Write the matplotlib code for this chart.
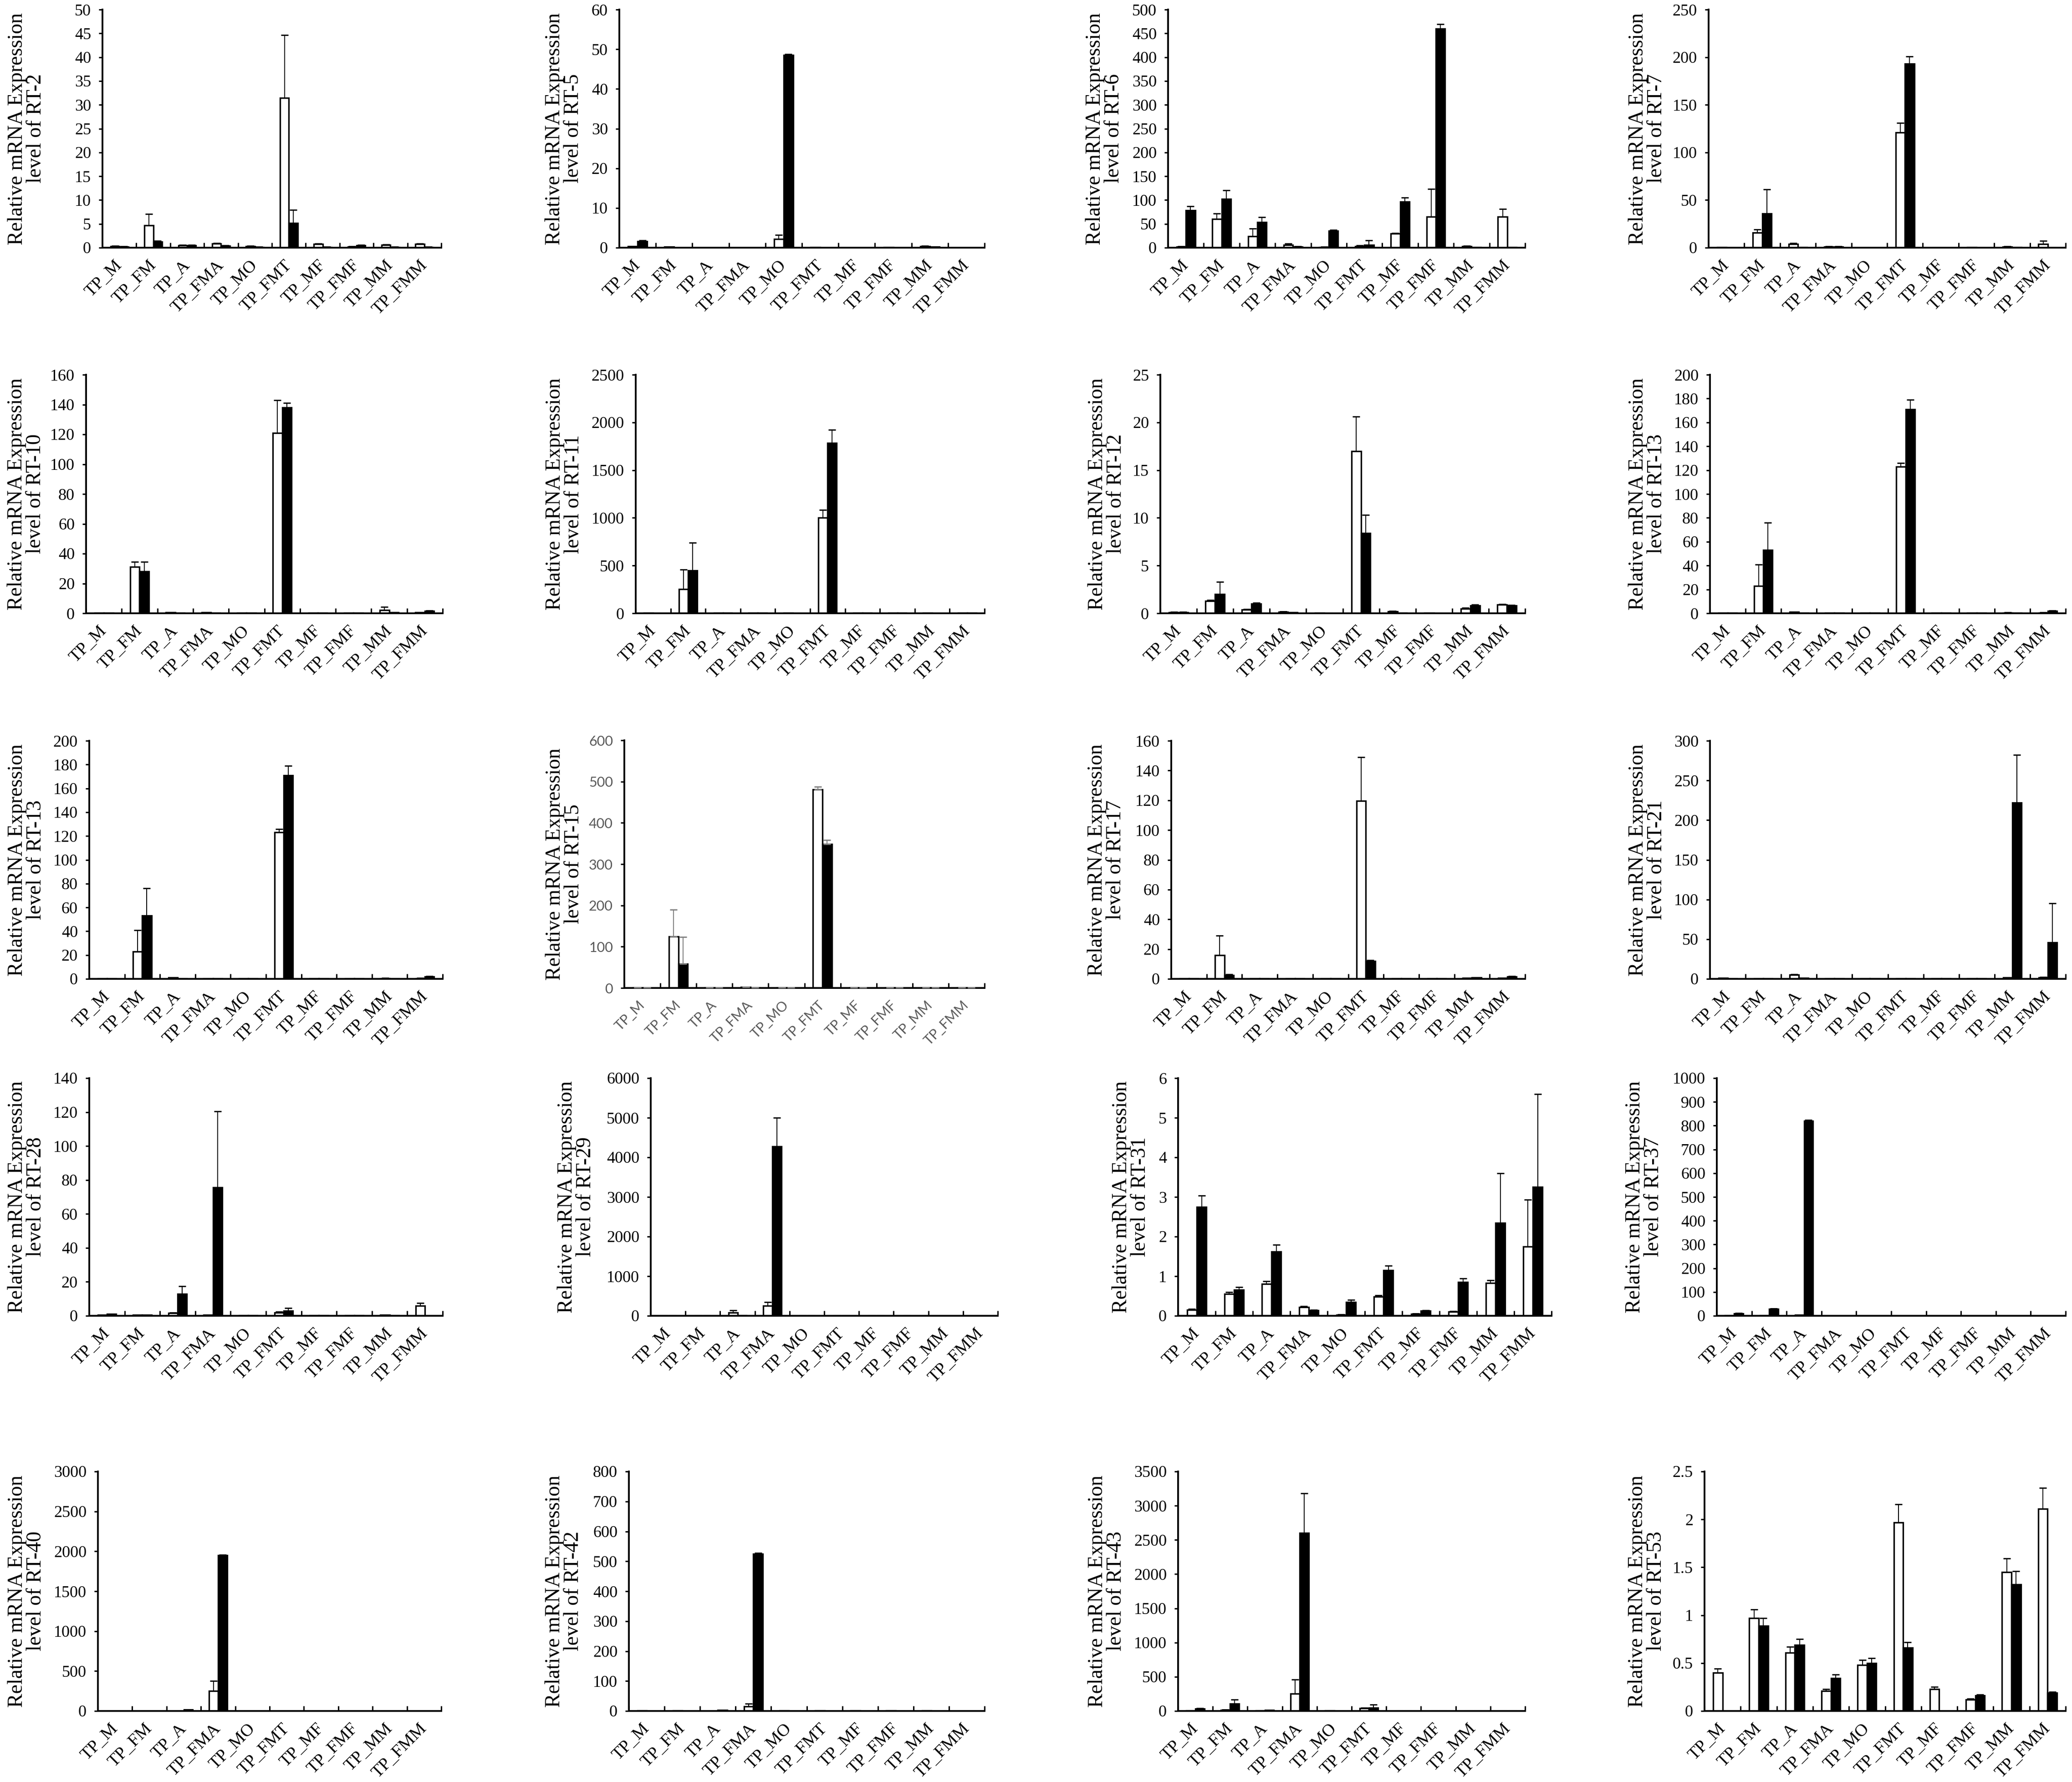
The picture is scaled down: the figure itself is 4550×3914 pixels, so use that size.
import matplotlib
matplotlib.use("Agg")
import matplotlib.pyplot as plt
import numpy as np
from matplotlib.ticker import FormatStrFormatter, MultipleLocator

categories = ["TP_M", "TP_FM", "TP_A", "TP_FMA", "TP_MO",
              "TP_FMT", "TP_MF", "TP_FMF", "TP_MM", "TP_FMM"]

# white = first series, black = second series, *_err = upper error bar
rt2_white = [0.3, 4.7, 0.5, 0.9, 0.3, 31.5, 0.8, 0.2, 0.6, 0.8]
rt2_white_err = [0.1, 2.4, 0.1, 0.1, 0.05, 13.1, 0.1, 0.05, 0.1, 0.1]
rt2_black = [0.2, 1.2, 0.5, 0.4, 0.1, 5.2, 0.1, 0.5, 0.1, 0.1]
rt2_black_err = [0.05, 0.2, 0.1, 0.1, 0.05, 2.7, 0.05, 0.05, 0.05, 0.05]

rt5_white = [0.3, 0.2, 0.05, 0.05, 2.2, 0.1, 0.05, 0.1, 0.4, 0.05]
rt5_white_err = [0.05, 0.05, 0, 0, 1.0, 0.05, 0, 0.05, 0.1, 0]
rt5_black = [1.6, 0.05, 0.02, 0.02, 48.5, 0.02, 0.02, 0.02, 0.2, 0.02]
rt5_black_err = [0.2, 0, 0, 0, 0.3, 0, 0, 0, 0.05, 0]

rt6_white = [2, 60, 24, 6, 1, 3, 30, 65, 3, 65]
rt6_white_err = [0.5, 12, 16, 3, 0.5, 1.5, 1, 58, 0.5, 16]
rt6_black = [78, 102, 54, 2, 35, 6, 97, 460, 1, 0.5]
rt6_black_err = [9, 18, 10, 0.5, 2, 9, 8, 9, 0.3, 0.1]

rt7_white = [0.3, 16, 4, 1, 0.2, 121, 0.2, 0.5, 1, 4]
rt7_white_err = [0.1, 3, 1, 0.2, 0.05, 10, 0.05, 0.1, 0.2, 3]
rt7_black = [0.2, 36, 0.3, 1, 0.1, 193, 0.1, 0.2, 0.5, 0.2]
rt7_black_err = [0.05, 25, 0.1, 0.2, 0.05, 8, 0.05, 0.05, 0.1, 0.05]

rt10_white = [0.3, 31, 0.5, 0.5, 0.3, 121, 0.3, 0.3, 2, 0.5]
rt10_white_err = [0.05, 3.5, 0.1, 0.1, 0.05, 22, 0.05, 0.05, 2.2, 0.1]
rt10_black = [0.3, 28, 0.3, 0.3, 0.2, 138, 0.2, 0.2, 0.5, 1.5]
rt10_black_err = [0.05, 6.5, 0.05, 0.05, 0.05, 3, 0.05, 0.05, 0.1, 0.2]

rt11_white = [3, 255, 4, 5, 3, 1000, 4, 3, 3, 3]
rt11_white_err = [1, 205, 1, 1, 1, 85, 1, 1, 1, 1]
rt11_black = [2, 450, 3, 4, 2, 1785, 5, 3, 2, 4]
rt11_black_err = [1, 290, 1, 1, 1, 140, 1, 1, 1, 1]

rt12_white = [0.1, 1.3, 0.4, 0.15, 0.05, 17, 0.2, 0.05, 0.5, 0.9]
rt12_white_err = [0.02, 0.1, 0.05, 0.02, 0.01, 3.6, 0.02, 0.01, 0.05, 0.05]
rt12_black = [0.1, 2.0, 1.0, 0.08, 0.02, 8.4, 0.05, 0.02, 0.8, 0.8]
rt12_black_err = [0.02, 1.3, 0.1, 0.02, 0.01, 1.9, 0.01, 0.01, 0.1, 0.05]

rt13_white = [0.3, 23, 1, 0.3, 0.2, 123, 0.3, 0.2, 0.5, 0.5]
rt13_white_err = [0.05, 18, 0.2, 0.05, 0.05, 3, 0.05, 0.05, 0.1, 0.1]
rt13_black = [0.2, 53, 0.3, 0.3, 0.2, 171, 0.2, 0.2, 0.3, 2]
rt13_black_err = [0.05, 23, 0.05, 0.05, 0.05, 8, 0.05, 0.05, 0.05, 0.4]

rt15_white = [1, 125, 1, 2, 1, 481, 1, 1, 1, 1]
rt15_white_err = [0.2, 65, 0.2, 0.3, 0.2, 6, 0.2, 0.2, 0.2, 0.2]
rt15_black = [0.5, 58, 0.5, 1, 0.5, 349, 0.5, 0.5, 0.5, 0.5]
rt15_black_err = [0.1, 65, 0.1, 0.2, 0.1, 10, 0.1, 0.1, 0.1, 0.1]

rt17_white = [0.3, 16, 0.3, 0.3, 0.2, 119.5, 0.3, 0.2, 0.5, 0.5]
rt17_white_err = [0.05, 13, 0.05, 0.05, 0.05, 29.5, 0.05, 0.05, 0.1, 0.1]
rt17_black = [0.3, 2.5, 0.2, 0.3, 0.2, 12, 0.2, 0.2, 0.8, 1.5]
rt17_black_err = [0.05, 0.5, 0.05, 0.05, 0.05, 0.5, 0.05, 0.05, 0.1, 0.2]

rt21_white = [1, 0.5, 5, 0.3, 0.3, 0.3, 0.3, 0.3, 1.5, 2]
rt21_white_err = [0.2, 0.1, 1, 0.05, 0.05, 0.05, 0.05, 0.05, 0.3, 0.5]
rt21_black = [0.5, 0.5, 1, 0.3, 0.3, 0.3, 0.3, 0.3, 222, 46]
rt21_black_err = [0.1, 0.1, 0.2, 0.05, 0.05, 0.05, 0.05, 0.05, 60, 49]

rt28_white = [0.5, 0.5, 1.5, 0.5, 0.3, 2, 0.3, 0.3, 0.5, 6]
rt28_white_err = [0.1, 0.1, 0.3, 0.1, 0.05, 0.3, 0.05, 0.05, 0.1, 1.5]
rt28_black = [1, 0.5, 13, 75.5, 0.2, 3, 0.2, 0.2, 0.2, 0.1]
rt28_black_err = [0.2, 0.1, 4.5, 45, 0.05, 1.5, 0.05, 0.05, 0.05, 0.02]

rt29_white = [5, 5, 80, 250, 5, 5, 5, 5, 3, 3]
rt29_white_err = [1, 1, 60, 100, 1, 1, 1, 1, 1, 1]
rt29_black = [5, 5, 10, 4280, 5, 5, 5, 3, 3, 3]
rt29_black_err = [1, 1, 2, 720, 1, 1, 1, 1, 1, 1]

rt31_white = [0.15, 0.55, 0.8, 0.22, 0.02, 0.48, 0.05, 0.1, 0.83, 1.75]
rt31_white_err = [0.02, 0.05, 0.07, 0.02, 0.01, 0.04, 0.01, 0.01, 0.07, 1.18]
rt31_black = [2.75, 0.65, 1.62, 0.14, 0.35, 1.15, 0.13, 0.85, 2.35, 3.25]
rt31_black_err = [0.28, 0.07, 0.17, 0.01, 0.05, 0.12, 0.01, 0.09, 1.25, 2.35]

rt37_white = [1, 2, 3, 0.5, 0.5, 0.5, 0.5, 0.5, 0.5, 0.5]
rt37_white_err = [0, 0, 0, 0, 0, 0, 0, 0, 0, 0]
rt37_black = [10, 28, 820, 0.5, 0.5, 0.5, 0.5, 0.5, 0.5, 0.5]
rt37_black_err = [1, 2, 3, 0, 0, 0, 0, 0, 0, 0]

rt40_white = [1, 1, 1, 250, 1, 1, 1, 1, 1, 1]
rt40_white_err = [0, 0, 0, 125, 0, 0, 0, 0, 0, 0]
rt40_black = [1, 1, 15, 1950, 1, 1, 1, 1, 1, 1]
rt40_black_err = [0, 0, 2, 5, 0, 0, 0, 0, 0, 0]

rt42_white = [2, 2, 0.5, 15, 2, 2, 2, 2, 2, 0.5]
rt42_white_err = [0, 0, 0, 10, 0, 0, 0, 0, 0, 0]
rt42_black = [0.5, 0.5, 3, 525, 0.5, 0.5, 0.5, 0.5, 0.5, 0.5]
rt42_black_err = [0, 0, 0.5, 3, 0, 0, 0, 0, 0, 0]

rt43_white = [5, 15, 5, 250, 5, 40, 3, 3, 3, 3]
rt43_white_err = [1, 2, 1, 210, 1, 5, 1, 1, 1, 1]
rt43_black = [35, 105, 12, 2600, 2, 45, 3, 3, 3, 3]
rt43_black_err = [3, 60, 2, 580, 1, 50, 1, 1, 1, 1]

rt53_white = [0.4, 0.97, 0.61, 0.21, 0.48, 1.97, 0.23, 0.12, 1.45, 2.11]
rt53_white_err = [0.04, 0.09, 0.06, 0.02, 0.05, 0.19, 0.02, 0.01, 0.14, 0.22]
rt53_black = [0, 0.89, 0.69, 0.34, 0.5, 0.66, 0, 0.16, 1.32, 0.19]
rt53_black_err = [0, 0.08, 0.06, 0.04, 0.05, 0.06, 0, 0.01, 0.14, 0.01]

# (gene, white, white err, black, black err, y max, y step)
panels = [
    ("RT-2", rt2_white, rt2_white_err, rt2_black, rt2_black_err, 50, 5),
    ("RT-5", rt5_white, rt5_white_err, rt5_black, rt5_black_err, 60, 10),
    ("RT-6", rt6_white, rt6_white_err, rt6_black, rt6_black_err, 500, 50),
    ("RT-7", rt7_white, rt7_white_err, rt7_black, rt7_black_err, 250, 50),
    ("RT-10", rt10_white, rt10_white_err, rt10_black, rt10_black_err, 160, 20),
    ("RT-11", rt11_white, rt11_white_err, rt11_black, rt11_black_err, 2500, 500),
    ("RT-12", rt12_white, rt12_white_err, rt12_black, rt12_black_err, 25, 5),
    ("RT-13", rt13_white, rt13_white_err, rt13_black, rt13_black_err, 200, 20),
    ("RT-13", rt13_white, rt13_white_err, rt13_black, rt13_black_err, 200, 20),
    ("RT-15", rt15_white, rt15_white_err, rt15_black, rt15_black_err, 600, 100),
    ("RT-17", rt17_white, rt17_white_err, rt17_black, rt17_black_err, 160, 20),
    ("RT-21", rt21_white, rt21_white_err, rt21_black, rt21_black_err, 300, 50),
    ("RT-28", rt28_white, rt28_white_err, rt28_black, rt28_black_err, 140, 20),
    ("RT-29", rt29_white, rt29_white_err, rt29_black, rt29_black_err, 6000, 1000),
    ("RT-31", rt31_white, rt31_white_err, rt31_black, rt31_black_err, 6, 1),
    ("RT-37", rt37_white, rt37_white_err, rt37_black, rt37_black_err, 1000, 100),
    ("RT-40", rt40_white, rt40_white_err, rt40_black, rt40_black_err, 3000, 500),
    ("RT-42", rt42_white, rt42_white_err, rt42_black, rt42_black_err, 800, 100),
    ("RT-43", rt43_white, rt43_white_err, rt43_black, rt43_black_err, 3500, 500),
    ("RT-53", rt53_white, rt53_white_err, rt53_black, rt53_black_err, 2.5, 0.5),
]

# axes boxes in pixels: left, right, top, bottom, gap from label edge to y axis
layout = [
    (225, 969, 21, 544, 215), (1360, 2162, 21, 544, 170),
    (2565, 3349, 21, 544, 188), (3752, 4536, 21, 544, 183),
    (189, 972, 823, 1347, 180), (1396, 2162, 823, 1347, 205),
    (2548, 3349, 823, 1347, 166), (3755, 4536, 823, 1347, 186),
    (196, 972, 1627, 2150, 186), (1371, 2162, 1626, 2170, 180),
    (2572, 3349, 1627, 2150, 191), (3755, 4536, 1627, 2150, 186),
    (196, 972, 2368, 2890, 186), (1429, 2191, 2368, 2890, 212),
    (2587, 3407, 2368, 2890, 152), (3770, 4536, 2368, 2890, 208),
    (215, 969, 3232, 3758, 205), (1381, 2162, 3232, 3758, 191),
    (2587, 3349, 3232, 3758, 205), (3743, 4536, 3232, 3758, 175),
]

W, H = 4550, 3914
serif = "Liberation Serif"

fig = plt.figure(figsize=(W / 100, H / 100), dpi=100)

x = np.arange(len(categories)) + 0.5
bw = 0.26

for (gene, w, we, b, be, ymax, ystep), (l, r, t, btm, gap) in zip(panels, layout):
    ax = fig.add_axes([l / W, 1 - btm / H, (r - l) / W, (btm - t) / H])
    odd = gene == "RT-15"
    ecol = "#7f7f7f" if odd else "black"

    ax.bar(x - bw / 2, w, width=bw, color="white", edgecolor="black", linewidth=2.4, zorder=2)
    ax.bar(x + bw / 2, b, width=bw, color="black", edgecolor="black", linewidth=2.4, zorder=2)
    zeros = np.zeros(len(categories))
    ax.errorbar(x - bw / 2, w, yerr=[zeros, we], fmt="none", ecolor=ecol,
                elinewidth=1.4, capsize=6, capthick=2, zorder=3)
    ax.errorbar(x + bw / 2, b, yerr=[zeros, be], fmt="none", ecolor=ecol,
                elinewidth=1.4, capsize=6, capthick=2, zorder=3)

    ax.set_xlim(0, len(categories))
    ax.set_ylim(0, ymax)
    ax.yaxis.set_major_locator(MultipleLocator(ystep))
    ax.yaxis.set_major_formatter(FormatStrFormatter("%g"))

    for s in ["top", "right"]:
        ax.spines[s].set_visible(False)
    for s in ["left", "bottom"]:
        ax.spines[s].set_linewidth(2.8)

    ax.set_xticks(np.arange(len(categories) + 1))
    ax.set_xticklabels([])
    ax.tick_params(axis="x", which="major", direction="in", length=8, width=2.2)
    ax.set_xticks(x, minor=True)
    ax.tick_params(axis="x", which="minor", length=0, pad=24)

    if odd:
        tfont = dict(family="Lato", size=22, color="#595959")
        xsize = 22
    else:
        tfont = dict(family=serif, size=26, color="black")
        xsize = 27.5
    ax.set_xticklabels(categories, minor=True, rotation=45, ha="right",
                       va="center", rotation_mode="anchor",
                       family=tfont["family"], size=xsize, color=tfont["color"])
    ax.tick_params(axis="y", direction="out", length=6, width=2.2, pad=12)
    for lab in ax.get_yticklabels():
        lab.set_fontfamily(tfont["family"])
        lab.set_fontsize(tfont["size"])
        lab.set_color(tfont["color"])

    ax.set_ylabel("Relative mRNA Expression\nlevel of " + gene,
                  family=serif, fontsize=33, linespacing=0.95)
    ax.yaxis.set_label_coords((90 - gap) / (r - l), 0.5)

fig.savefig("out.png", dpi=100, facecolor="white")
